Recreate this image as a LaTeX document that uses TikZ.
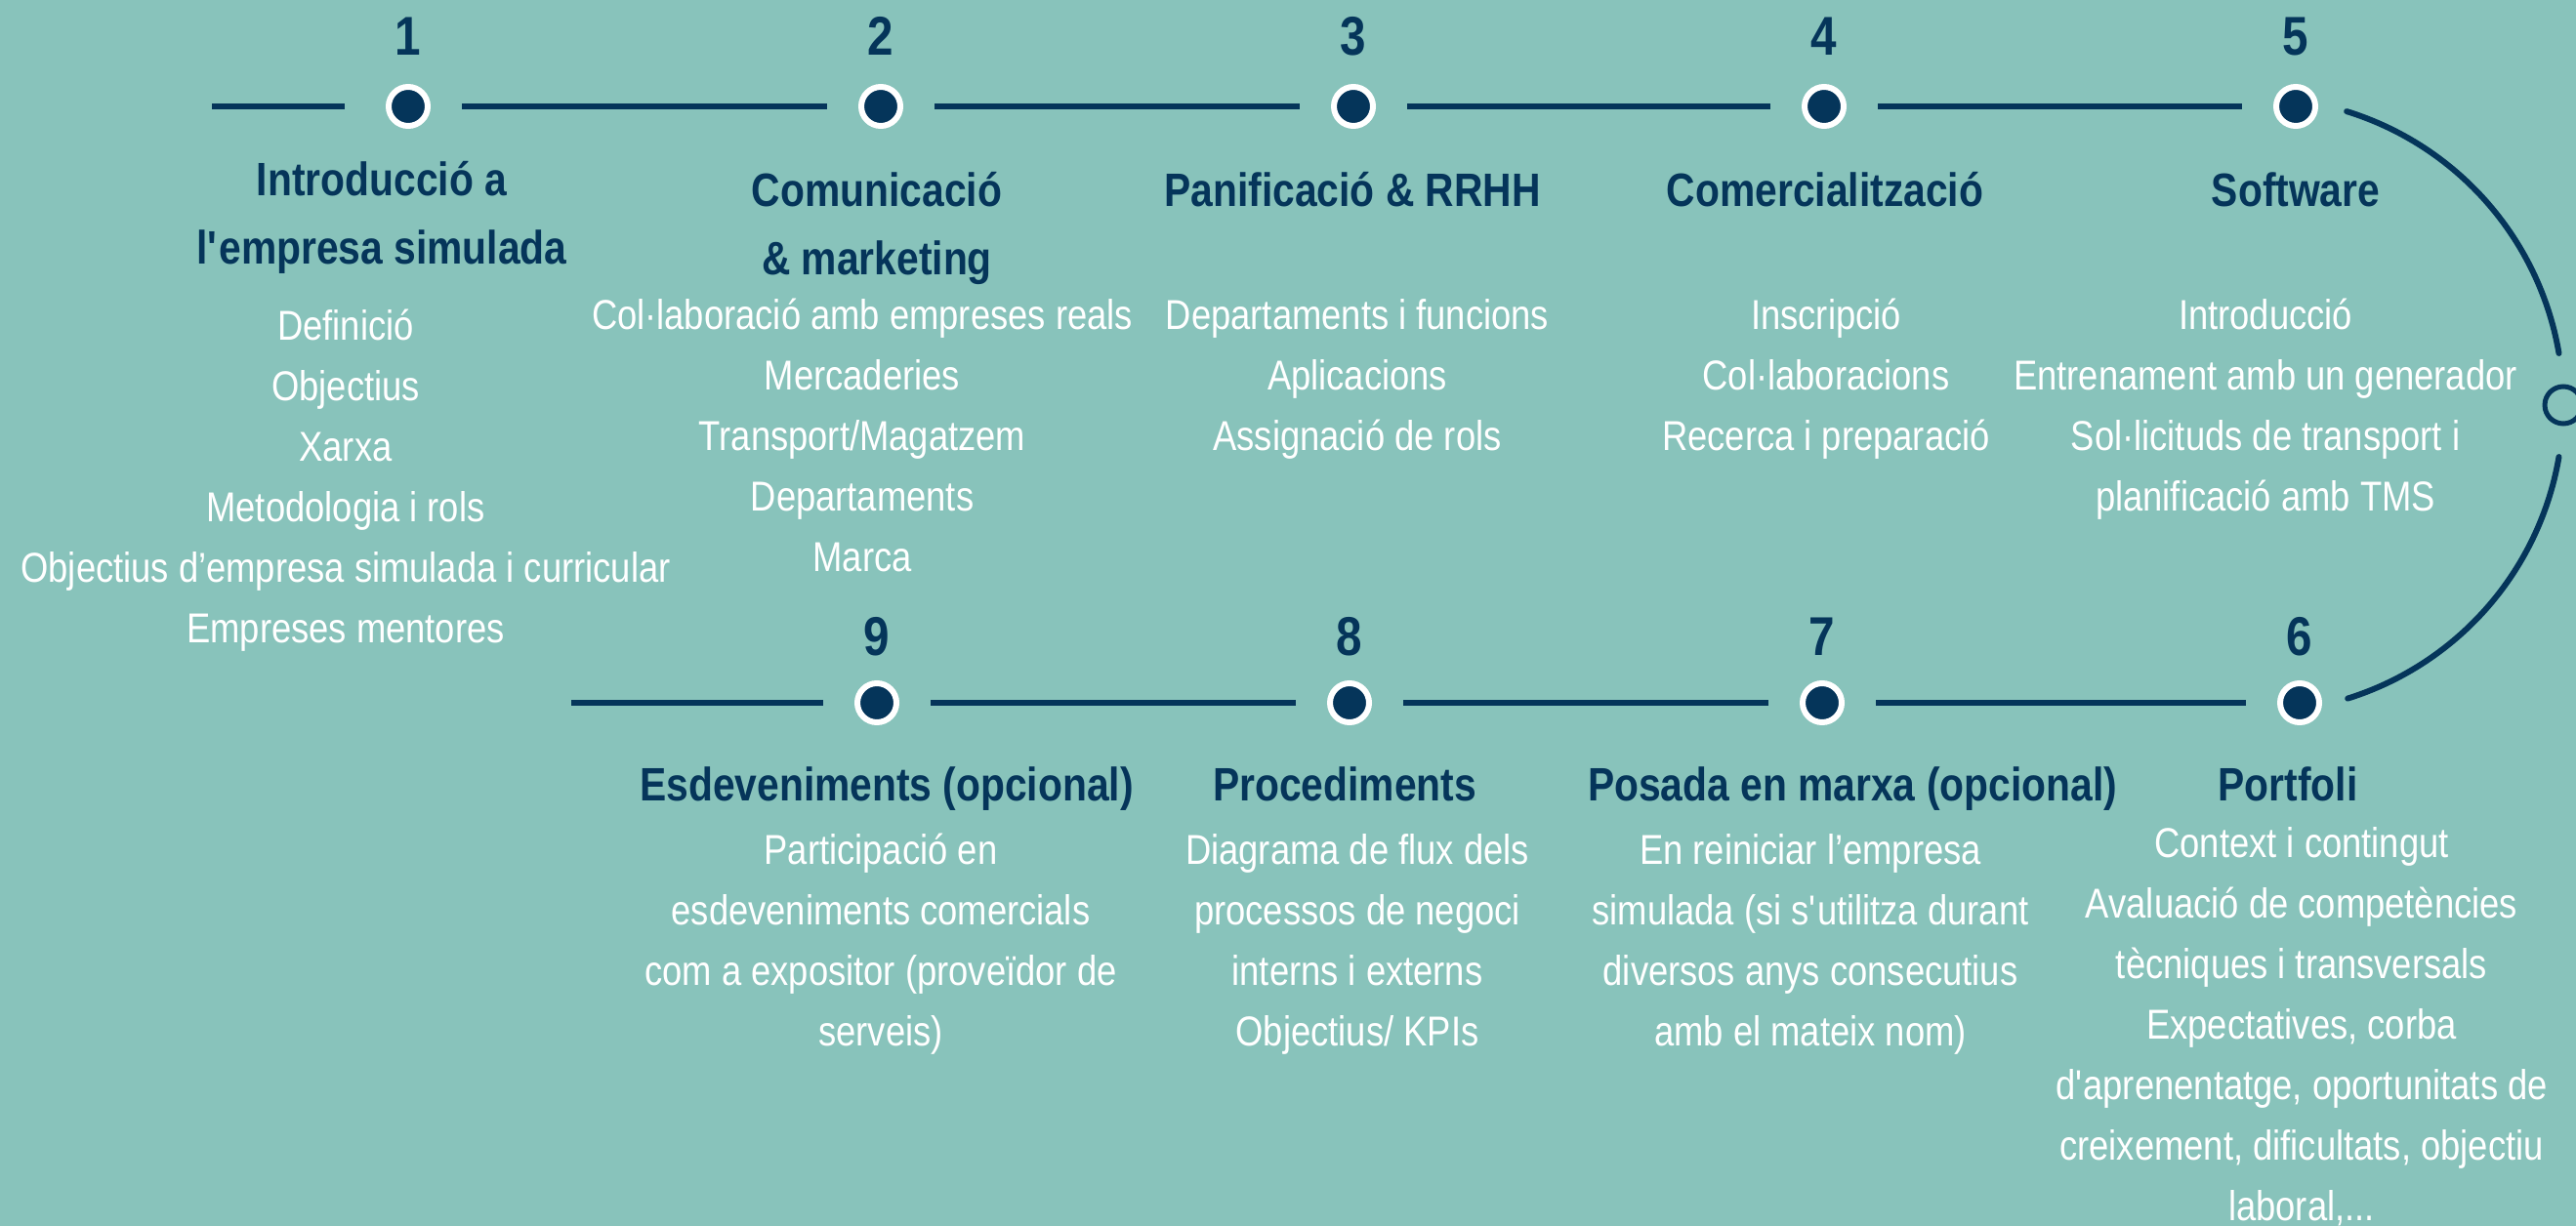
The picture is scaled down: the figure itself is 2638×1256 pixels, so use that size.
\documentclass[tikz,border=0pt]{standalone}
\usepackage{fontspec}
\newfontfamily\cf{Liberation Sans}[FakeStretch=0.85]
\definecolor{bg}{HTML}{88C3BB}
\definecolor{navy}{HTML}{05355A}
\begin{document}
\begin{tikzpicture}[x=0.5pt,y=-0.5pt,
  dot/.style={circle, fill=navy, draw=white, line width=3pt, minimum size=20pt, inner sep=0pt},
  ring/.style={circle, draw=navy, line width=2.5pt, minimum size=19pt, inner sep=0pt},
  tline/.style={draw=navy, line width=3pt},
  num/.style={text=navy, font=\cf\bfseries\fontsize{28}{32}\selectfont, inner sep=0pt, anchor=base},
  ttl/.style={text=navy, font=\cf\bfseries\fontsize{24}{35}\selectfont, align=center, inner sep=0pt, anchor=north},
  body/.style={text=white, font=\cf\fontsize{21.4}{31}\selectfont, align=center, inner sep=0pt, anchor=north}]
\fill[bg] (0,0) rectangle (2638,1256);
\useasboundingbox (0,0) rectangle (2638,1256);

% top row
\node[dot] (c1) at (418,109) {};
\node[dot] (c2) at (902,109) {};
\node[dot] (c3) at (1386,109) {};
\node[dot] (c4) at (1868,109) {};
\node[dot] (c5) at (2351,109) {};
\coordinate (s1) at (217,109);
\draw[tline, shorten >=21pt] (s1) -- (c1);
\draw[tline, shorten <=16pt, shorten >=16pt] (c1) -- (c2);
\draw[tline, shorten <=16pt, shorten >=16pt] (c2) -- (c3);
\draw[tline, shorten <=16pt, shorten >=16pt] (c3) -- (c4);
\draw[tline, shorten <=16pt, shorten >=16pt] (c4) -- (c5);

% bottom row
\node[dot] (c9) at (898,720) {};
\node[dot] (c8) at (1382,720) {};
\node[dot] (c7) at (1866,720) {};
\node[dot] (c6) at (2355,720) {};
\coordinate (s9) at (585,720);
\draw[tline, shorten >=16pt] (s9) -- (c9);
\draw[tline, shorten <=16pt, shorten >=16pt] (c9) -- (c8);
\draw[tline, shorten <=16pt, shorten >=16pt] (c8) -- (c7);
\draw[tline, shorten <=16pt, shorten >=16pt] (c7) -- (c6);

% right arc
\node[ring] (r) at (2625,415) {};
\draw[tline, line cap=round] plot[domain=-72.8:-9.7, samples=60] ({2310+315*cos(\x)},{415+315*sin(\x)});
\draw[tline, line cap=round] plot[domain=9.7:72.6, samples=60] ({2310+315*cos(\x)},{415+315*sin(\x)});

% numbers
\node[num] (n1) at (418,57) {1};
\node[num] (n2) at (902,57) {2};
\node[num] (n3) at (1386,57) {3};
\node[num] (n4) at (1868,57) {4};
\node[num] (n5) at (2351,57) {5};
\node[num] (n9) at (898,671) {9};
\node[num] (n8) at (1382,671) {8};
\node[num] (n7) at (1866,671) {7};
\node[num] (n6) at (2355,671) {6};

% titles
\node[ttl] (t1) at (391,151) {\strut Introducció a\\l\textquotesingle empresa simulada};
\node[ttl] (t2) at (898,162) {\strut Comunicació\\\& marketing};
\node[ttl] (t3) at (1385,162) {\strut Panificació \& RRHH};
\node[ttl] (t4) at (1869,162) {\strut Comercialització};
\node[ttl] (t5) at (2351,162) {\strut Software};
\node[ttl] (t9) at (908,771) {\strut Esdeveniments (opcional)};
\node[ttl] (t8) at (1377,771) {\strut Procediments};
\node[ttl] (t7) at (1897,771) {\strut Posada en marxa (opcional)};
\node[ttl] (t6) at (2343,771) {\strut Portfoli};

% bodies
\node[body] (b1) at (354,305) {\strut Definició\\Objectius\\Xarxa\\Metodologia i rols\\Objectius d’empresa simulada i curricular\\Empreses mentores};
\node[body] (b2) at (883,294) {\strut Col·laboració amb empreses reals\\Mercaderies\\Transport/Magatzem\\Departaments\\Marca};
\node[body] (b3) at (1390,294) {\strut Departaments i funcions\\Aplicacions\\Assignació de rols};
\node[body] (b4) at (1870,294) {\strut Inscripció\\Col·laboracions\\Recerca i preparació};
\node[body] (b5) at (2320,294) {\strut Introducció\\Entrenament amb un generador\\Sol·licituds de transport i\\planificació amb TMS};
\node[body] (b9) at (902,842) {\strut Participació en\\esdeveniments comercials\\com a expositor (proveïdor de\\serveis)};
\node[body] (b8) at (1390,842) {\strut Diagrama de flux dels\\processos de negoci\\interns i externs\\Objectius/ KPIs};
\node[body] (b7) at (1854,842) {\strut En reiniciar l’empresa\\simulada (si s\textquotesingle utilitza durant\\diversos anys consecutius\\amb el mateix nom)};
\node[body] (b6) at (2357,835) {\strut Context i contingut\\Avaluació de competències\\tècniques i transversals\\Expectatives, corba\\d\textquotesingle aprenentatge, oportunitats de\\creixement, dificultats, objectiu\\laboral,...};
\end{tikzpicture}
\end{document}
